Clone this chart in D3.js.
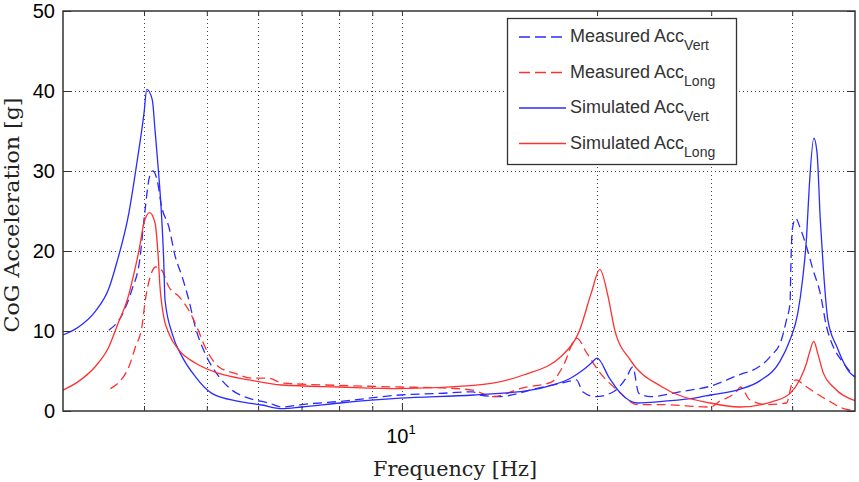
<!DOCTYPE html>
<html>
<head>
<meta charset="utf-8">
<script src="https://cdn.jsdelivr.net/npm/d3@7"></script>
<style>
  body { margin: 0; background: #fff; }
  svg { display: block; }
</style>
</head>
<body>
<div id="chart"></div>
<script>

// Frequencies [Hz] and CoG acceleration [g]
var simVertF = [3.0, 3.17, 3.36, 3.53, 3.63, 3.79, 3.9, 4.0, 4.04, 4.12, 4.16, 4.21, 4.25, 4.29, 4.31, 4.42, 4.58, 4.8, 5.09, 5.6, 6.08, 6.53, 7.0, 8.03, 9.93, 12.9, 15.8, 17.0, 18.2, 19.0, 19.6, 20.0, 20.9, 21.7, 23.1, 25.2, 28.7, 29.9, 33.2, 35.7, 38.3, 39.7, 40.8, 41.5, 42.1, 42.5, 43.2, 43.7, 44.2, 44.7, 45.4, 46.9, 49.2, 50];
var simVertG = [9.5, 10.5, 12.4, 15.3, 18.5, 24.7, 31, 37.2, 40.2, 38.9, 35.1, 30.1, 25.5, 18.9, 13.9, 9.7, 6.8, 4.3, 2.2, 1.2, 0.75, 0.3, 0.5, 1.0, 1.6, 2.0, 2.6, 3.2, 4.1, 5.1, 6.0, 6.6, 4.1, 2.3, 1.0, 1.2, 1.7, 2.0, 2.7, 3.8, 6.2, 8.9, 12.2, 16.4, 21.8, 28, 34.1, 32.2, 23.9, 17.6, 11.4, 8, 4.7, 4.3];

var simLongF = [3.0, 3.17, 3.36, 3.53, 3.65, 3.77, 3.85, 3.93, 4.0, 4.08, 4.16, 4.21, 4.23, 4.29, 4.37, 4.53, 4.8, 5.22, 5.8, 6.53, 8.0, 9.93, 12.9, 15.4, 17.7, 18.8, 19.6, 20.2, 20.8, 21.3, 22.5, 25.2, 29.9, 33.2, 37.4, 39.7, 41.1, 42.1, 42.5, 43.2, 43.8, 44.7, 46.3, 50];
var simLongG = [2.6, 3.7, 5.5, 8.0, 11, 13.9, 16.8, 20.1, 23.5, 24.8, 23.5, 18.9, 16, 11.8, 9.7, 7.6, 6.0, 4.7, 3.9, 3.25, 3.0, 2.8, 3.2, 4.5, 7.0, 10.1, 14.8, 17.7, 14.3, 10.1, 6.4, 3.0, 1.0, 0.5, 1.2, 2.2, 3.9, 6.0, 7.2, 8.7, 7.2, 4.7, 3.0, 1.3];

var measVertF = [3.53, 3.7, 3.83, 3.94, 4.01, 4.08, 4.13, 4.19, 4.26, 4.37, 4.47, 4.58, 4.69, 4.8, 4.97, 5.22, 5.47, 5.8, 6.23, 6.53, 7.0, 8.03, 9.93, 11.45, 12.87, 13.2, 14.1, 16.3, 17.9, 18.6, 19.0, 19.9, 21.2, 22.2, 22.7, 23.2, 24.2, 26.8, 29.9, 33.6, 34.8, 37.0, 38.5, 39.2, 39.7, 39.8, 40.0, 40.5, 41.1, 42.1, 43.1, 44.2, 45.2, 46.3, 48.0, 50];
var measVertG = [10.1, 12, 15.1, 18.9, 24.7, 29.3, 30, 28.9, 25.5, 23, 19.3, 16.8, 13.9, 10.5, 7.2, 4.3, 2.6, 1.6, 1.0, 0.5, 0.8, 1.2, 2.0, 2.2, 2.4, 2.0, 1.8, 2.9, 3.6, 3.9, 2.4, 1.8, 2.4, 4.2, 5.5, 2.2, 1.8, 2.4, 3.1, 4.7, 5.1, 6.8, 8.9, 11.4, 13.5, 17.6, 22.6, 24.1, 23, 20.5, 17.6, 14.7, 10.5, 8, 6, 4.2];

var measLongF = [3.55, 3.65, 3.79, 3.88, 3.97, 4.02, 4.09, 4.17, 4.26, 4.37, 4.53, 4.69, 4.85, 4.97, 5.22, 5.53, 5.86, 6.23, 6.53, 8.0, 9.93, 11.45, 12.87, 13.8, 15.37, 17.0, 17.7, 18.6, 19.3, 20.2, 21.5, 23.1, 25.2, 29.9, 30.9, 32.8, 33.3, 34.4, 36.6, 39.2, 40.0, 40.6, 41.7, 43.6, 45.7, 48.0, 50];
var measLongG = [2.8, 3.5, 5.5, 8.0, 10.5, 13.9, 16.8, 18, 17.6, 15.5, 14.3, 12.6, 10.1, 8, 5.5, 4.7, 4.1, 4.1, 3.5, 3.2, 3.0, 2.9, 2.6, 1.8, 2.9, 3.6, 5.5, 9.1, 7.2, 4.8, 2.6, 0.8, 0.8, 0.5, 1.2, 2.4, 3.0, 1.4, 0.8, 1.0, 3.5, 3.9, 3.25, 2.2, 1.2, 0.3, 0.1];

var xGrid = [4, 5, 6, 7, 8, 9, 10, 20, 30, 40];
var yTicks = [0, 10, 20, 30, 40, 50];
var yGrid = [10, 20, 30, 40];

var blue = '#2b2bff', red = '#ff3030';

var series = [
  {name: 'Measured Acc', sub: 'Vert', f: measVertF, g: measVertG, color: blue, dash: '9,5'},
  {name: 'Measured Acc', sub: 'Long', f: measLongF, g: measLongG, color: red, dash: '9,5'},
  {name: 'Simulated Acc', sub: 'Vert', f: simVertF, g: simVertG, color: blue, dash: null},
  {name: 'Simulated Acc', sub: 'Long', f: simLongF, g: simLongG, color: red, dash: null}
];

var width = 859, height = 482;
var plotL = 63, plotR = 855, plotT = 11, plotB = 411;

var svg = d3.select('#chart').append('svg')
    .attr('width', width)
    .attr('height', height);

var x = d3.scaleLog().domain([3, 50]).range([plotL, plotR]);
var y = d3.scaleLinear().domain([0, 50]).range([plotB, plotT]);

// dotted grid
var grid = svg.append('g')
    .attr('stroke', '#444')
    .attr('stroke-width', 1)
    .attr('stroke-dasharray', '1,3');

grid.selectAll('line.vx')
    .data(xGrid)
  .enter().append('line')
    .attr('x1', function(d){ return Math.round(x(d)) + 0.5; })
    .attr('x2', function(d){ return Math.round(x(d)) + 0.5; })
    .attr('y1', plotT)
    .attr('y2', plotB);

grid.selectAll('line.hy')
    .data(yGrid)
  .enter().append('line')
    .attr('x1', plotL)
    .attr('x2', plotR)
    .attr('y1', function(d){ return Math.round(y(d)) + 0.5; })
    .attr('y2', function(d){ return Math.round(y(d)) + 0.5; });

// curves
var line = d3.line()
    .x(function(d){ return x(d[0]); })
    .y(function(d){ return y(d[1]); })
    .curve(d3.curveMonotoneX);

svg.append('g').selectAll('path')
    .data(series)
  .enter().append('path')
    .attr('fill', 'none')
    .attr('stroke', function(d){ return d.color; })
    .attr('stroke-width', 1.3)
    .attr('stroke-dasharray', function(d){ return d.dash; })
    .attr('d', function(d){
      return line(d.f.map(function(f, i){ return [f, d.g[i]]; }));
    });

// axes
var axisColor = '#333';

var yAxis = svg.append('g')
    .attr('transform', 'translate(' + plotL + ',0)')
    .call(d3.axisLeft(y).tickValues(yTicks).tickSize(-8).tickPadding(8));

svg.append('g')
    .attr('transform', 'translate(' + plotR + ',0)')
    .call(d3.axisRight(y).tickValues(yTicks).tickSize(-8).tickFormat(''));

var xAxis = svg.append('g')
    .attr('transform', 'translate(0,' + plotB + ')')
    .call(d3.axisBottom(x).tickValues(xGrid).tickSize(-5).tickFormat(''));

svg.append('g')
    .attr('transform', 'translate(0,' + plotT + ')')
    .call(d3.axisTop(x).tickValues(xGrid).tickSize(-5).tickFormat(''));

// major decade tick is a bit longer
xAxis.selectAll('.tick line')
    .filter(function(d){ return d === 10; })
    .attr('y2', -8);

svg.selectAll('.domain').attr('stroke', 'none');
svg.selectAll('.tick line').attr('stroke', axisColor).attr('stroke-width', 1);

yAxis.selectAll('text')
    .attr('font-family', 'Liberation Sans, Arial, sans-serif')
    .attr('font-size', 20)
    .attr('fill', '#000');

svg.append('rect')
    .attr('x', plotL)
    .attr('y', plotT)
    .attr('width', plotR - plotL)
    .attr('height', plotB - plotT)
    .attr('fill', 'none')
    .attr('stroke', axisColor)
    .attr('stroke-width', 1.5);

// 10^1 label
var dec = svg.append('text')
    .attr('x', x(10) - 1)
    .attr('y', 443)
    .attr('text-anchor', 'middle')
    .attr('font-family', 'Liberation Sans, Arial, sans-serif')
    .attr('font-size', 20)
    .attr('fill', '#000');
dec.append('tspan').text('10');
dec.append('tspan').attr('dy', -9).attr('font-size', 13).text('1');

// axis titles
svg.append('text')
    .attr('x', 455)
    .attr('y', 476)
    .attr('text-anchor', 'middle')
    .attr('font-family', 'DejaVu Serif, Liberation Serif, serif')
    .attr('font-size', 21)
    .attr('textLength', 164)
    .attr('lengthAdjust', 'spacingAndGlyphs')
    .attr('fill', '#222')
    .text('Frequency [Hz]');

svg.append('text')
    .attr('transform', 'translate(19,215) rotate(-90)')
    .attr('text-anchor', 'middle')
    .attr('font-family', 'DejaVu Serif, Liberation Serif, serif')
    .attr('font-size', 21)
    .attr('textLength', 235)
    .attr('lengthAdjust', 'spacingAndGlyphs')
    .attr('fill', '#222')
    .text('CoG Acceleration [g]');

// legend
var legend = svg.append('g');

legend.append('rect')
    .attr('x', 507.5)
    .attr('y', 18.5)
    .attr('width', 229)
    .attr('height', 146)
    .attr('fill', '#fff')
    .attr('stroke', axisColor)
    .attr('stroke-width', 1.3);

var item = legend.selectAll('g.item')
    .data(series)
  .enter().append('g')
    .attr('transform', function(d, i){ return 'translate(0,' + (37 + i * 35.5) + ')'; });

item.append('line')
    .attr('x1', 519)
    .attr('x2', 566)
    .attr('stroke', function(d){ return d.color; })
    .attr('stroke-width', 1.3)
    .attr('stroke-dasharray', function(d){ return d.dash ? '11,5' : null; });

var label = item.append('text')
    .attr('x', 570)
    .attr('y', 5)
    .attr('font-family', 'Liberation Sans, Arial, sans-serif')
    .attr('font-size', 18)
    .attr('fill', '#333');
label.append('tspan').text(function(d){ return d.name; });
label.append('tspan')
    .attr('dy', 8)
    .attr('font-size', 14)
    .text(function(d){ return d.sub; });

</script>
</body>
</html>
